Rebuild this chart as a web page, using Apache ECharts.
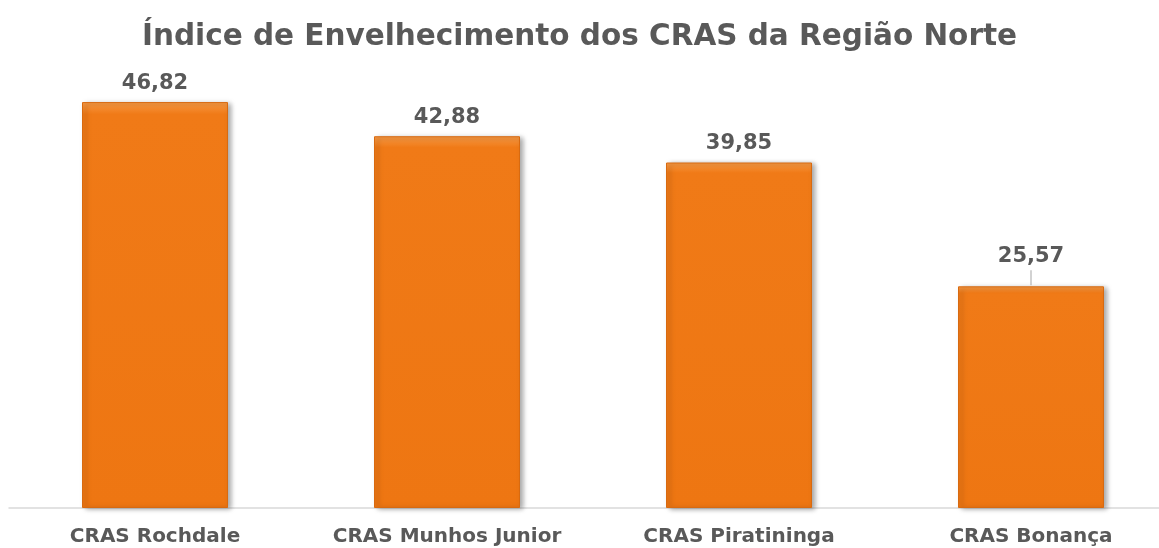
<!DOCTYPE html>
<html>
<head>
<meta charset="utf-8">
<script src="https://cdn.jsdelivr.net/npm/echarts@6/dist/echarts.min.js"></script>
<style>
  html, body { margin: 0; padding: 0; background: #fff; }
  #chart { width: 1159px; height: 548px; }
</style>
</head>
<body>
<div id="chart"></div>
<script>
const categories = ['CRAS Rochdale', 'CRAS Munhos Junior', 'CRAS Piratininga', 'CRAS Bonança']
const values = [46.82, 42.88, 39.85, 25.57]

const chart = echarts.init(document.getElementById('chart'))

const barColor = {
  type: 'linear', x: 0, y: 0, x2: 0, y2: 1,
  colorStops: [
    { offset: 0, color: '#f79a45' },
    { offset: 0.03, color: '#f07a17' },
    { offset: 1, color: '#ee7612' }
  ]
}

const fmt = v => v.toFixed(2).replace('.', ',')

const option = {
  animation: false,
  title: {
    text: 'Índice de Envelhecimento dos CRAS da Região Norte',
    left: 'center',
    top: 17,
    textStyle: {
      fontFamily: 'DejaVu Sans',
      fontWeight: 'bold',
      fontSize: 29.5,
      color: '#595959'
    }
  },
  grid: {
    left: 9,
    width: 1168,
    top: 74.5,
    bottom: 40,
    containLabel: false,
    outerBoundsMode: 'none'
  },
  xAxis: {
    type: 'category',
    data: categories,
    axisLine: { lineStyle: { color: '#d9d9d9', width: 1.5 } },
    axisTick: { show: false },
    axisLabel: {
      interval: 0,
      hideOverlap: false,
      margin: 19,
      fontFamily: 'DejaVu Sans',
      fontWeight: 'bold',
      fontSize: 20,
      color: '#595959'
    }
  },
  yAxis: {
    type: 'value',
    min: 0,
    max: 50,
    show: false
  },
  series: [
    {
      type: 'bar',
      barWidth: '50%',
      data: values.map((v, i) => {
        const item = { value: v }
        if (i === 3) {
          // leader line under the last label
          item.label = {
            distance: 1,
            formatter: p => '{v|' + fmt(p.value) + '}\n{l|}'
          }
        }
        return item
      }),
      itemStyle: {
        color: barColor,
        borderColor: '#d86a10',
        borderWidth: 1,
        shadowColor: 'rgba(0,0,0,0.35)',
        shadowBlur: 5,
        shadowOffsetX: 3,
        shadowOffsetY: 1
      },
      label: {
        show: true,
        position: 'top',
        distance: 8,
        formatter: p => fmt(p.value),
        fontFamily: 'DejaVu Sans',
        fontWeight: 'bold',
        fontSize: 21,
        color: '#595959',
        rich: {
          v: {
            fontFamily: 'DejaVu Sans',
            fontWeight: 'bold',
            fontSize: 21,
            color: '#595959',
            padding: [0, 0, 3, 0]
          },
          l: {
            width: 1,
            height: 15,
            backgroundColor: '#a6a6a6'
          }
        }
      }
    }
  ]
}

chart.setOption(option)
</script>
</body>
</html>
